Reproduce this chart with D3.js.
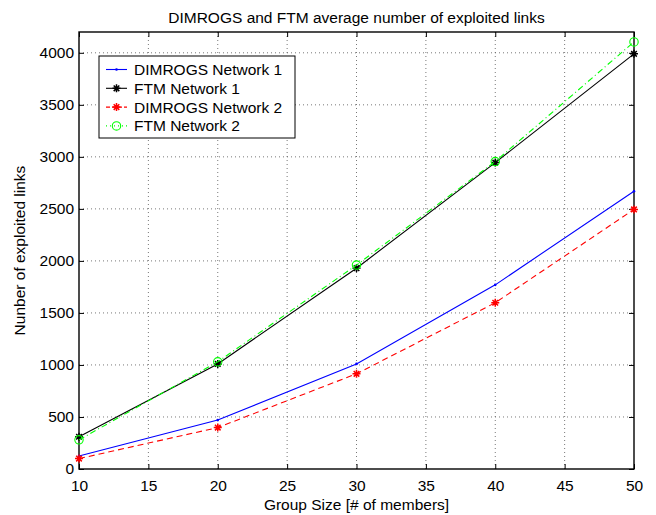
<!DOCTYPE html>
<html>
<head>
<meta charset="utf-8">
<script src="https://cdn.jsdelivr.net/npm/d3@7"></script>
<style>
  body { margin: 0; background: #fff; }
  text { font-family: "Liberation Sans", Arial, sans-serif; fill: #000; }
</style>
</head>
<body>
<div id="graph"></div>
<script>
var groupSizes = [10, 20, 30, 40, 50]
var dimrogsNet1 = [125, 470, 1010, 1770, 2670]
var ftmNet1 = [310, 1010, 1930, 2945, 3990]
var dimrogsNet2 = [100, 398, 915, 1598, 2495]
var ftmNet2 = [280, 1030, 1960, 2955, 4105]
var xTicks = [10, 15, 20, 25, 30, 35, 40, 45, 50]
var yTicks = [0, 500, 1000, 1500, 2000, 2500, 3000, 3500, 4000]

var series = [
  {name: 'DIMROGS Network 1', values: dimrogsNet1, color: '#0000ff', dash: null, marker: 'dot'},
  {name: 'FTM Network 1', values: ftmNet1, color: '#000000', dash: null, marker: 'star'},
  {name: 'DIMROGS Network 2', values: dimrogsNet2, color: '#ff0000', dash: '6,4', marker: 'star'},
  {name: 'FTM Network 2', values: ftmNet2, color: '#00ff00', dash: '6,3,1,3', marker: 'circle'},
]

var W = 656, H = 515
var m = {top: 32, right: 22, bottom: 46, left: 79}
var width = W - m.left - m.right
var height = H - m.top - m.bottom
var fs = '15.5px'

var svg = d3.select('#graph').append('svg').attr('width', W).attr('height', H)
var g = svg.append('g').attr('transform', `translate(${m.left},${m.top})`)

var x = d3.scaleLinear().domain([10, 50]).range([0, width])
var y = d3.scaleLinear().domain([0, 4200]).range([height, 0])

// grid
g.append('g').selectAll('line').data(xTicks.slice(1, -1)).join('line')
  .attr('x1', d => x(d)).attr('x2', d => x(d)).attr('y1', 0).attr('y2', height)
  .attr('stroke', '#555').attr('stroke-width', 0.8).attr('stroke-dasharray', '1,3')
g.append('g').selectAll('line').data(yTicks.slice(1)).join('line')
  .attr('y1', d => y(d)).attr('y2', d => y(d)).attr('x1', 0).attr('x2', width)
  .attr('stroke', '#555').attr('stroke-width', 0.8).attr('stroke-dasharray', '1,3')

// axes, ticks point inward like matlab
var tk = 5
g.append('g').attr('transform', `translate(0,${height})`)
  .call(d3.axisBottom(x).tickValues(xTicks).tickSize(-tk).tickPadding(11).tickFormat(d3.format('d')))
g.append('g')
  .call(d3.axisTop(x).tickValues(xTicks).tickSize(-tk).tickFormat(''))
g.append('g')
  .call(d3.axisLeft(y).tickValues(yTicks).tickSize(-tk).tickPadding(5).tickFormat(d3.format('d')))
g.append('g').attr('transform', `translate(${width},0)`)
  .call(d3.axisRight(y).tickValues(yTicks).tickSize(-tk).tickFormat(''))
g.selectAll('.domain').remove()
g.selectAll('.tick line').attr('stroke', '#000').attr('stroke-width', 1)
g.selectAll('.tick text').style('font-size', fs).style('font-family', '"Liberation Sans", Arial, sans-serif')
g.append('rect').attr('width', width).attr('height', height)
  .attr('fill', 'none').attr('stroke', '#000').attr('stroke-width', 1.4)

var line = d3.line().x((d, i) => x(groupSizes[i])).y(d => y(d))

function drawMarker(sel, type, color) {
  if (type == 'dot') {
    sel.append('circle').attr('r', 1.3).attr('fill', color)
  } else if (type == 'star') {
    var r = 4
    sel.append('path')
      .attr('d', `M${-r},0L${r},0M0,${-r}L0,${r}M${-r*.7},${-r*.7}L${r*.7},${r*.7}M${-r*.7},${r*.7}L${r*.7},${-r*.7}`)
      .attr('stroke', color).attr('stroke-width', 1.5)
  } else {
    sel.append('circle').attr('r', 4.2).attr('fill', 'none').attr('stroke', color).attr('stroke-width', 1.1)
  }
}

series.forEach(s => {
  g.append('path').datum(s.values)
    .attr('d', line).attr('fill', 'none')
    .attr('stroke', s.color).attr('stroke-width', 1.1)
    .attr('stroke-dasharray', s.dash)
  g.selectAll(null).data(s.values).join('g')
    .attr('transform', (d, i) => `translate(${x(groupSizes[i])},${y(d)})`)
    .each(function() { drawMarker(d3.select(this), s.marker, s.color) })
})

// legend
var lg = svg.append('g').attr('transform', 'translate(99,56)')
lg.append('rect').attr('width', 196).attr('height', 82)
  .attr('fill', '#fff').attr('stroke', '#000').attr('stroke-width', 1)
series.forEach((s, i) => {
  var ly = 13.5 + i * 18.8
  var row = lg.append('g').attr('transform', `translate(0,${ly})`)
  row.append('line').attr('x1', 7).attr('x2', 28).attr('y1', 0).attr('y2', 0)
    .attr('stroke', s.color).attr('stroke-width', 1.1)
    .attr('stroke-dasharray', s.marker == 'circle' ? '1,3' : s.dash ? '4,2' : null)
  drawMarker(row.append('g').attr('transform', 'translate(17.5,0)'), s.marker, s.color)
  row.append('text').attr('x', 35).attr('y', 5.5).style('font-size', fs).text(s.name)
})

svg.append('text').attr('x', m.left + width / 2).attr('y', 23)
  .attr('text-anchor', 'middle').style('font-size', fs)
  .text('DIMROGS and FTM average number of exploited links')
svg.append('text').attr('x', m.left + width / 2).attr('y', 510)
  .attr('text-anchor', 'middle').style('font-size', fs)
  .text('Group Size [# of members]')
svg.append('text').attr('transform', `translate(25,${m.top + height / 2}) rotate(-90)`)
  .attr('text-anchor', 'middle').style('font-size', fs)
  .text('Nunber of exploited links')
</script>
</body>
</html>
